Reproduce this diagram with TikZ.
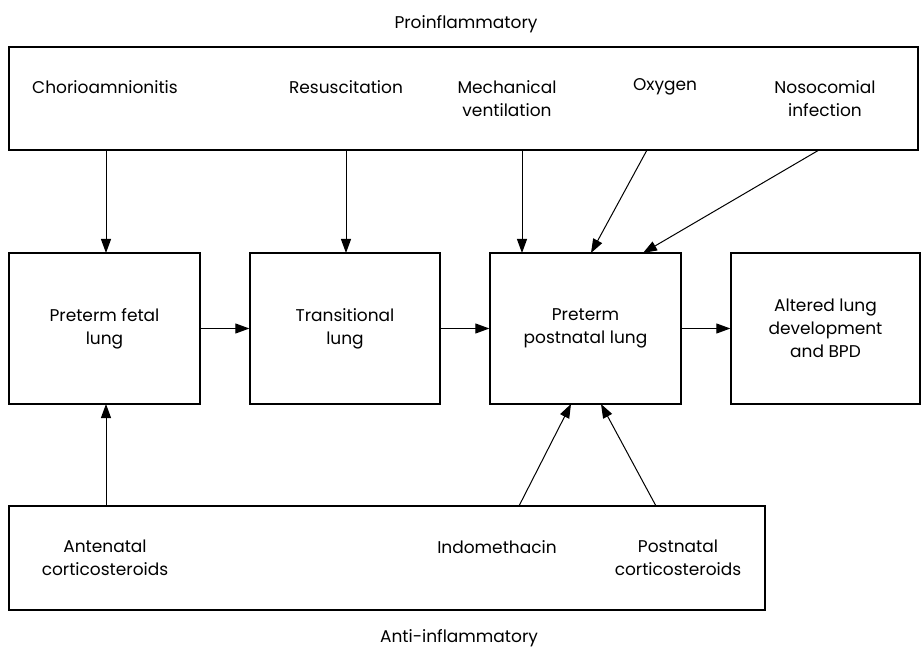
\documentclass[tikz,border=0pt]{standalone}
\usepackage{fontspec}
\setmainfont{Poppins}
\usetikzlibrary{arrows.meta}
\begin{document}
\begin{tikzpicture}[x=1pt,y=-1pt,
  box/.style={draw,line width=1.3pt,inner sep=0pt},
  lbl/.style={font=\fontsize{17}{23}\selectfont,align=center,inner sep=0pt},
  arr/.style={line width=1pt,-{Triangle[length=14pt,width=10pt]}}]
\useasboundingbox (0,0) rectangle (922,650);
% boxes
\node[box,minimum width=909pt,minimum height=103pt] (top) at (463.5,98.5) {};
\node[box,minimum width=191pt,minimum height=151pt] (b1) at (104.5,328.5) {};
\node[box,minimum width=190pt,minimum height=151pt] (b2) at (345,328.5) {};
\node[box,minimum width=191pt,minimum height=151pt] (b3) at (585.5,328.5) {};
\node[box,minimum width=189pt,minimum height=151pt] (b4) at (825.5,328.5) {};
\node[box,minimum width=756pt,minimum height=104pt] (bot) at (387,558) {};
% titles
\node[lbl] (pro) at (466,24) {Proinflammatory};
\node[lbl] (anti) at (459,638) {Anti-inflammatory};
% top labels
\node[lbl] (chor) at (105,87) {Chorioamnionitis};
\node[lbl] (resu) at (346,87) {Resuscitation};
\node[lbl] (mech) at (507,99) {Mechanical\\ventilation};
\node[lbl] (oxy) at (665,87) {Oxygen};
\node[lbl] (noso) at (825,99) {Nosocomial\\infection};
% box labels
\node[lbl] at (b1) {Preterm fetal\\lung};
\node[lbl] at (b2) {Transitional\\lung};
\node[lbl] at (b3) {Preterm\\postnatal lung};
\node[lbl] at (b4) {Altered lung\\development\\and BPD};
% bottom labels
\node[lbl] (ante) at (105,558) {Antenatal\\corticosteroids};
\node[lbl] (indo) at (497,547) {Indomethacin};
\node[lbl] (post) at (678,558) {Postnatal\\corticosteroids};
% coordinates on box edges
\coordinate (t1) at (106,150);
\coordinate (t2) at (346,150);
\coordinate (t3) at (522,150);
\coordinate (t4) at (647,150);
\coordinate (t5) at (819,150);
\coordinate (h1) at (106,253);
\coordinate (h2) at (346,253);
\coordinate (h3) at (522,253);
\coordinate (h4) at (591,253);
\coordinate (h5) at (643,253);
\coordinate (u1) at (106,506);
\coordinate (u2) at (519,506);
\coordinate (u3) at (656,506);
\coordinate (l1) at (106,404);
\coordinate (l2) at (571,404);
\coordinate (l3) at (601,404);
% arrows
\draw[arr] (t1) -- (h1);
\draw[arr] (t2) -- (h2);
\draw[arr] (t3) -- (h3);
\draw[arr] (t4) -- (h4);
\draw[arr] (t5) -- (h5);
\draw[arr] (b1.east) -- (b2.west);
\draw[arr] (b2.east) -- (b3.west);
\draw[arr] (b3.east) -- (b4.west);
\draw[arr] (u1) -- (l1);
\draw[arr] (u2) -- (l2);
\draw[arr] (u3) -- (l3);
\end{tikzpicture}
\end{document}
